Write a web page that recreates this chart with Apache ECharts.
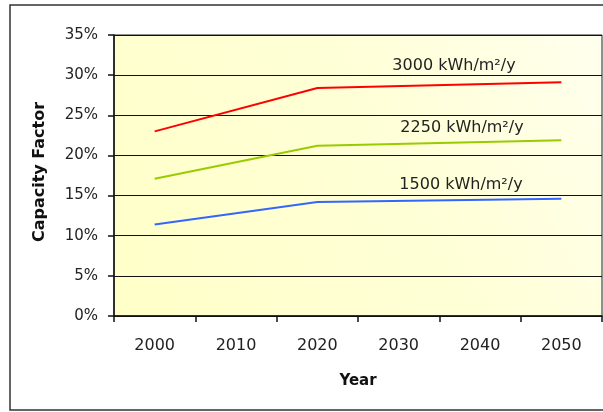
<!DOCTYPE html>
<html>
<head>
<meta charset="utf-8">
<script src="https://cdn.jsdelivr.net/npm/echarts@6/dist/echarts.min.js"></script>
<style>
html,body{margin:0;padding:0;background:#fff;}
#chart{width:603px;height:412px;}
</style>
</head>
<body>
<div id="chart"></div>
<script>
var years = ['2000', '2010', '2020', '2030', '2040', '2050'];
var cf3000 = [23.0, null, 28.4, null, null, 29.1];
var cf2250 = [17.1, null, 21.2, null, null, 21.9];
var cf1500 = [11.4, null, 14.2, null, null, 14.6];
var seriesNames = ['3000 kWh/m²/y', '2250 kWh/m²/y', '1500 kWh/m²/y'];
var seriesColors = ['#ff0000', '#99cc00', '#3366ff'];

var chart = echarts.init(document.getElementById('chart'), null, {renderer: 'canvas'});
var font = 'DejaVu Sans';

function lineSeries(name, data, color) {
  return {
    name: name, type: 'line', data: data, connectNulls: true,
    symbol: 'none', lineStyle: {color: color, width: 2}, itemStyle: {color: color},
    animation: false, z: 5
  };
}

chart.setOption({
  animation: false,
  grid: {
    left: 114, top: 35, width: 488, height: 281,
    show: true, borderColor: '#222', borderWidth: 1,
    backgroundColor: {
      type: 'linear', x: 0, y: 1, x2: 1, y2: 0,
      colorStops: [{offset: 0, color: '#ffffc8'}, {offset: 0.6, color: '#ffffd8'}, {offset: 1, color: '#ffffee'}]
    }
  },
  xAxis: {
    type: 'category', data: years, boundaryGap: true,
    axisLine: {lineStyle: {color: '#111', width: 1.5}},
    axisTick: {show: true, interval: 0, alignWithLabel: false, length: 6, lineStyle: {color: '#111', width: 1.5}},
    axisLabel: {margin: 22, color: '#222', fontFamily: font, fontSize: 16, interval: 0},
    splitLine: {show: false}
  },
  yAxis: {
    type: 'value', min: 0, max: 35, interval: 5,
    axisLine: {show: true, lineStyle: {color: '#111', width: 1.5}},
    axisTick: {show: true, length: 6, lineStyle: {color: '#111', width: 1.5}},
    axisLabel: {margin: 16, color: '#222', fontFamily: font, fontSize: 15, formatter: '{value}%'},
    splitLine: {show: true, lineStyle: {color: '#111', width: 1.2}}
  },
  series: [
    lineSeries(seriesNames[0], cf3000, seriesColors[0]),
    lineSeries(seriesNames[1], cf2250, seriesColors[1]),
    lineSeries(seriesNames[2], cf1500, seriesColors[2])
  ],
  graphic: [
    {type: 'rect', shape: {x: 10, y: 5, width: 620, height: 405}, style: {fill: 'none', stroke: '#333', lineWidth: 1.5}, silent: true, z: -1},
    {type: 'text', x: 40, y: 172, rotation: Math.PI / 2,
     style: {text: 'Capacity Factor', font: 'bold 16px "DejaVu Sans"', fill: '#111', align: 'center', verticalAlign: 'middle'}},
    {type: 'text', x: 358, y: 381,
     style: {text: 'Year', font: 'bold 15px "DejaVu Sans"', fill: '#111', align: 'center', verticalAlign: 'middle'}},
    {type: 'text', x: 454, y: 66, z: 10,
     style: {text: seriesNames[0], font: '16px "DejaVu Sans"', fill: '#222', align: 'center', verticalAlign: 'middle'}},
    {type: 'text', x: 462, y: 128, z: 10,
     style: {text: seriesNames[1], font: '16px "DejaVu Sans"', fill: '#222', align: 'center', verticalAlign: 'middle'}},
    {type: 'text', x: 461, y: 185, z: 10,
     style: {text: seriesNames[2], font: '16px "DejaVu Sans"', fill: '#222', align: 'center', verticalAlign: 'middle'}}
  ]
});
</script>
</body>
</html>
